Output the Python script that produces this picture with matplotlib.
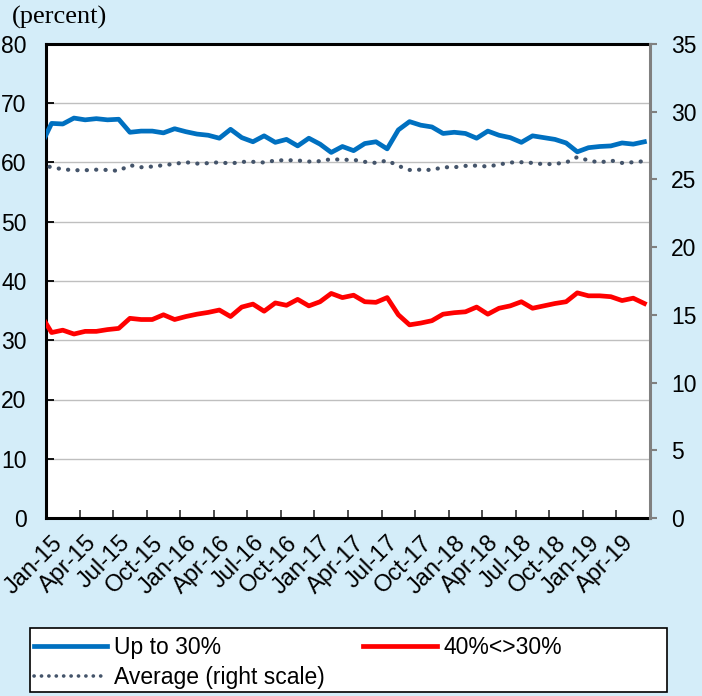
import numpy as np
import matplotlib
matplotlib.use('Agg')
import matplotlib.pyplot as plt
from matplotlib.lines import Line2D
from matplotlib.patches import Rectangle

plt.rcParams['font.family'] = ['Liberation Sans', 'DejaVu Sans']

# month index: -1 = Dec-14 (clipped at left edge), 0 = Jan-15 ... 53 = Jun-19
month_idx = list(range(-1, 54))

up_to_30 = [62.7, 66.6, 66.5, 67.5, 67.2, 67.4, 67.2, 67.3, 65.1, 65.3, 65.3,
            65.0, 65.7, 65.2, 64.8, 64.6, 64.1, 65.6, 64.2, 63.5, 64.5, 63.4,
            63.9, 62.8, 64.1, 63.1, 61.7, 62.7, 62.0, 63.2, 63.5, 62.3, 65.5,
            66.9, 66.3, 66.0, 64.9, 65.1, 64.9, 64.1, 65.3, 64.6, 64.2, 63.4,
            64.5, 64.2, 63.9, 63.3, 61.8, 62.5, 62.7, 62.8, 63.3, 63.1, 63.5]

btw_30_40 = [34.4, 31.3, 31.7, 31.05, 31.5, 31.5, 31.8, 32.0, 33.7, 33.5, 33.5,
             34.3, 33.5, 34.0, 34.4, 34.7, 35.1, 34.0, 35.6, 36.1, 34.9, 36.3,
             35.9, 36.9, 35.8, 36.5, 37.9, 37.2, 37.6, 36.5, 36.4, 37.2, 34.3,
             32.6, 32.9, 33.3, 34.4, 34.65, 34.8, 35.6, 34.4, 35.4, 35.8, 36.5,
             35.4, 35.8, 36.2, 36.5, 38.0, 37.5, 37.5, 37.35, 36.7, 37.1, 36.2]

average = [26.1, 25.9, 25.75, 25.68, 25.68, 25.72, 25.7, 25.63, 26.05, 25.9, 25.95,
           26.05, 26.15, 26.27, 26.17, 26.2, 26.27, 26.17, 26.3, 26.3, 26.25, 26.4,
           26.42, 26.4, 26.32, 26.35, 26.5, 26.45, 26.45, 26.3, 26.22, 26.4, 26.0,
           25.7, 25.72, 25.7, 25.9, 25.9, 26.0, 26.02, 25.95, 26.1, 26.25, 26.27,
           26.22, 26.12, 26.15, 26.25, 26.65, 26.4, 26.25, 26.4, 26.22, 26.27, 26.35]

tick_labels = ['Jan-15', 'Apr-15', 'Jul-15', 'Oct-15', 'Jan-16', 'Apr-16',
               'Jul-16', 'Oct-16', 'Jan-17', 'Apr-17', 'Jul-17', 'Oct-17',
               'Jan-18', 'Apr-18', 'Jul-18', 'Oct-18', 'Jan-19', 'Apr-19']

bg = '#d4edf9'
blue = '#0070c0'
red = '#ff0000'
grey_dot = '#44546a'
fs = 16.5

fig = plt.figure(figsize=(7.02, 6.96), dpi=100, facecolor=bg)
ax = fig.add_axes([46/702, 1 - 518/696, 604/702, 474/696])
ax.set_facecolor('white')

ax.plot(month_idx, up_to_30, color=blue, lw=3.4, solid_joinstyle='round', zorder=3)
ax.plot(month_idx, btw_30_40, color=red, lw=3.4, solid_joinstyle='round', zorder=3)

ax.set_xlim(-0.5, 53.5)
ax.set_ylim(0, 80)
ax.set_yticks(range(0, 81, 10))
ax.grid(axis='y', color='#bfbfbf', lw=1.0, zorder=0)
ax.set_axisbelow(True)

# ticks at category boundaries, labels centred on the category
ax.set_xticks([k - 0.5 for k in range(0, 55, 3)])
ax.set_xticklabels([])
ax.set_xticks(list(range(0, 52, 3)), minor=True)
ax.set_xticklabels(tick_labels, minor=True, rotation=45, ha='right',
                   rotation_mode='anchor', fontsize=17)
ax.tick_params(axis='x', which='major', direction='in', length=6, width=1.3,
               color='#404040')
ax.tick_params(axis='x', which='minor', length=0, pad=10)
ax.tick_params(axis='y', direction='in', length=6, width=1.3, color='black',
               labelsize=fs, pad=14)

for side in ['left', 'top', 'bottom']:
    ax.spines[side].set_linewidth(2.2)
    ax.spines[side].set_color('black')
ax.spines['right'].set_visible(False)

ax2 = ax.twinx()
ax2.plot(month_idx, average, color=grey_dot, lw=3.0, linestyle=(0, (0.05, 2.2)),
         dash_capstyle='round', zorder=3)
ax2.set_ylim(0, 35)
ax2.set_yticks(range(0, 36, 5))
ax2.tick_params(axis='y', direction='out', length=5, width=1.5, color='#808080',
                labelsize=fs, pad=10)
ax2.spines['right'].set_linewidth(2.2)
ax2.spines['right'].set_color('#808080')
for side in ['left', 'top', 'bottom']:
    ax2.spines[side].set_visible(False)

fig.text(12/702, 1 - 17/696, '(percent)', family='Liberation Serif',
         fontsize=19, va='center', ha='left')

# legend frame
fig.add_artist(Rectangle((30/702, 1 - 692/696), 637/702, 64/696,
                         transform=fig.transFigure, facecolor='white',
                         edgecolor='black', lw=1.2, zorder=1))

handles = [Line2D([], [], color=blue, lw=3.4),
           Line2D([], [], color=grey_dot, lw=2.6, linestyle=(0, (0.05, 2.0)),
                  dash_capstyle='round'),
           Line2D([], [], color=red, lw=3.4)]
labels = ['Up to 30%', 'Average (right scale)', '40%<>30%']
leg = fig.legend(handles, labels, ncol=2, loc='upper left',
                 bbox_to_anchor=(34/702, 1 - 636/696),
                 fontsize=fs, frameon=False, handlelength=3.2,
                 handletextpad=0.3, labelspacing=0.3, borderpad=0,
                 borderaxespad=0, columnspacing=1.68)
leg.set_zorder(2)

fig.savefig('out.png', dpi=100, facecolor=bg)
